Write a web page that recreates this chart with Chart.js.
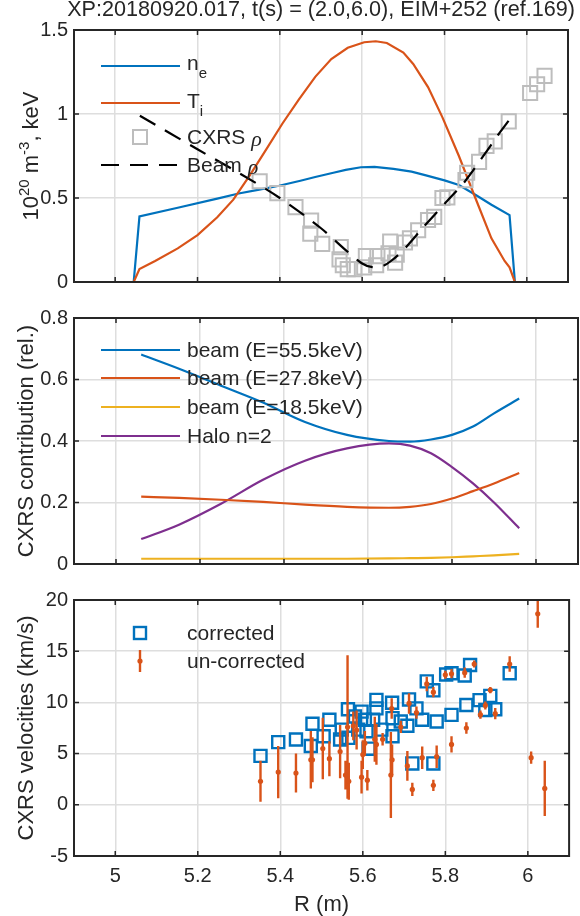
<!DOCTYPE html>
<html>
<head>
<meta charset="utf-8">
<script src="https://cdn.jsdelivr.net/npm/chart.js@4.4.1/dist/chart.umd.min.js"></script>
<style>
  html, body { margin: 0; padding: 0; background: #fff; }
  #fig { position: relative; width: 580px; height: 916px; }
  canvas { position: absolute; left: 0; }
</style>
</head>
<body>
<div id="fig">
  <canvas id="c1" width="580" height="300" style="top:0px"></canvas>
  <canvas id="c2" width="580" height="282" style="top:300px"></canvas>
  <canvas id="c3" width="580" height="334" style="top:582px"></canvas>
</div>
<script>
const TITLE = 'XP:20180920.017, t(s) = (2.0,6.0), EIM+252 (ref.169)';
const xTicks = [5, 5.2, 5.4, 5.6, 5.8, 6];
const xTickLabels = ['5', '5.2', '5.4', '5.6', '5.8', '6'];

// panel 1: profiles
const neR = [4.9, 5.045, 5.059, 5.152, 5.248, 5.3, 5.35, 5.398, 5.45, 5.486, 5.53, 5.56, 5.597, 5.63, 5.676, 5.72, 5.755, 5.8, 5.835, 5.875, 5.914, 5.958, 5.971, 6.065];
const neVal = [0, 0, 0.39, 0.442, 0.496, 0.527, 0.55, 0.573, 0.603, 0.625, 0.65, 0.667, 0.683, 0.685, 0.673, 0.657, 0.635, 0.605, 0.577, 0.519, 0.46, 0.398, 0, 0];
const tiR = [4.9, 5.045, 5.059, 5.097, 5.152, 5.2, 5.248, 5.287, 5.327, 5.367, 5.406, 5.446, 5.486, 5.525, 5.565, 5.605, 5.633, 5.66, 5.7, 5.724, 5.76, 5.795, 5.835, 5.875, 5.914, 5.946, 5.958, 5.971, 6.065];
const tiVal = [0, 0, 0.077, 0.125, 0.2, 0.279, 0.385, 0.49, 0.635, 0.789, 0.942, 1.086, 1.221, 1.327, 1.394, 1.427, 1.433, 1.423, 1.366, 1.298, 1.16, 0.98, 0.75, 0.5, 0.26, 0.125, 0.087, 0, 0];
const beamR = [5.06, 5.2, 5.3, 5.4, 5.5, 5.56, 5.6, 5.625, 5.65, 5.67, 5.7, 5.75, 5.8, 5.85, 5.9, 5.93, 5.962];
const beamRho = [0.99, 0.79, 0.65, 0.5, 0.32, 0.19, 0.11, 0.088, 0.095, 0.125, 0.19, 0.33, 0.465, 0.6, 0.77, 0.875, 0.98];
const cxrsR = [5.351, 5.394, 5.438, 5.476, 5.474, 5.503, 5.548, 5.545, 5.553, 5.565, 5.581, 5.605, 5.609, 5.637, 5.634, 5.668, 5.664, 5.68, 5.684, 5.704, 5.716, 5.736, 5.76, 5.775, 5.795, 5.807, 5.851, 5.855, 5.884, 5.902, 5.922, 5.956, 6.008, 6.025, 6.043];
const cxrsRho = [0.6, 0.529, 0.446, 0.365, 0.288, 0.227, 0.208, 0.135, 0.1, 0.077, 0.077, 0.087, 0.154, 0.154, 0.1, 0.24, 0.17, 0.115, 0.163, 0.235, 0.26, 0.308, 0.369, 0.388, 0.5, 0.504, 0.606, 0.65, 0.715, 0.81, 0.837, 0.956, 1.125, 1.177, 1.227];

// panel 2: CXRS contributions
const contribR = [5.06, 5.15, 5.25, 5.35, 5.45, 5.55, 5.65, 5.7, 5.75, 5.8, 5.85, 5.9, 5.96];
const beam55 = [0.681, 0.635, 0.58, 0.525, 0.462, 0.42, 0.4, 0.398, 0.405, 0.42, 0.447, 0.49, 0.538];
const beam28 = [0.219, 0.215, 0.209, 0.202, 0.193, 0.186, 0.183, 0.186, 0.195, 0.213, 0.237, 0.262, 0.296];
const beam18 = [0.017, 0.017, 0.017, 0.017, 0.017, 0.017, 0.018, 0.019, 0.02, 0.022, 0.025, 0.028, 0.033];
const halo = [0.081, 0.128, 0.196, 0.274, 0.336, 0.376, 0.392, 0.385, 0.36, 0.315, 0.262, 0.2, 0.116];

// panel 3: velocities
const corrR = [5.352, 5.395, 5.438, 5.478, 5.474, 5.505, 5.519, 5.549, 5.545, 5.564, 5.565, 5.581, 5.597, 5.589, 5.609, 5.614, 5.605, 5.633, 5.633, 5.625, 5.645, 5.671, 5.672, 5.672, 5.692, 5.708, 5.712, 5.73, 5.72, 5.744, 5.755, 5.771, 5.779, 5.771, 5.802, 5.815, 5.815, 5.847, 5.86, 5.851, 5.883, 5.897, 5.909, 5.921, 5.956];
const corrV = [4.78, 6.12, 6.38, 7.92, 5.74, 6.7, 8.3, 7.34, 6.38, 9.33, 6.54, 8.62, 9.1, 7.34, 7.18, 5.48, 8.3, 10.25, 9.42, 8.3, 7.34, 9.96, 8.46, 6.7, 8.14, 7.72, 10.29, 9.42, 4.04, 8.3, 12.05, 11.18, 8.14, 4.04, 12.72, 12.85, 8.78, 12.63, 13.65, 9.74, 10.22, 9.26, 10.64, 9.33, 12.85];
const uncR = [5.352, 5.395, 5.438, 5.474, 5.478, 5.503, 5.519, 5.545, 5.558, 5.563, 5.566, 5.577, 5.585, 5.597, 5.6, 5.605, 5.611, 5.629, 5.633, 5.648, 5.668, 5.671, 5.67, 5.692, 5.708, 5.712, 5.72, 5.73, 5.744, 5.755, 5.771, 5.771, 5.779, 5.8, 5.815, 5.815, 5.847, 5.851, 5.87, 5.885, 5.897, 5.909, 5.921, 5.956, 6.008, 6.024, 6.041];
const uncV = [2.3, 3.2, 3.1, 4.4, 4.4, 5.5, 4.5, 5.2, 2.9, 7.6, 2.3, 7.7, 7.3, 2.7, 4.9, 6.0, 2.4, 6.4, 5.9, 6.4, 2.9, 4.4, 9.4, 7.6, 3.8, 9.9, 1.5, 9.0, 4.6, 11.8, 11.0, 1.9, 4.7, 12.7, 12.8, 5.9, 12.9, 7.5, 13.75, 8.8, 9.7, 11.2, 8.9, 13.75, 4.6, 18.65, 1.6];
const uncErr = [2.0, 2.55, 1.9, 2.8, 2.2, 3.0, 1.7, 2.6, 1.4, 7.0, 1.8, 1.4, 1.9, 1.6, 1.4, 1.2, 1.0, 2.2, 2.0, 0.6, 4.2, 1.5, 1.0, 0.6, 1.45, 1.0, 0.65, 0.6, 1.1, 0.7, 0.5, 0.55, 1.1, 0.4, 0.45, 0.8, 0.5, 0.55, 0.35, 0.4, 0.4, 0.3, 0.55, 0.75, 0.6, 1.35, 2.7];

const FONT = '"Liberation Sans", Arial, Helvetica, sans-serif';
const SERIF = '"Liberation Serif", "Times New Roman", serif';
const INK = '#262626';
const GRID = '#dedede';
const BLUE = '#0072BD', ORANGE = '#D95319', YELLOW = '#EDB120', PURPLE = '#7E2F8E', GRAY = '#bdbdbd';
const DASH = [18, 11];

const pts = (xs, ys) => xs.map((x, i) => ({ x, y: ys[i] }));

function axes(yMin, yMax, yTicks, yTickLabels, showX) {
  return {
    x: {
      type: 'linear', min: 4.9, max: 6.1,
      afterBuildTicks: s => { s.ticks = xTicks.map(v => ({ value: v })); },
      afterFit: s => { s.height = showX ? 60 : 0; },
      grid: { color: GRID, lineWidth: 1.5, drawTicks: false },
      border: { display: false },
      ticks: {
        display: showX, padding: 8, color: INK, maxRotation: 0, autoSkip: false,
        font: { family: FONT, size: 20 },
        callback: (v, i) => xTickLabels[i],
      },
    },
    y: {
      type: 'linear', min: yMin, max: yMax,
      afterBuildTicks: s => { s.ticks = yTicks.map(v => ({ value: v })); },
      afterFit: s => { s.width = 74; },
      grid: { color: GRID, lineWidth: 1.5, drawTicks: false },
      border: { display: false },
      ticks: {
        padding: 6, color: INK, autoSkip: false,
        font: { family: FONT, size: 20 },
        callback: (v, i) => yTickLabels[i],
      },
    },
  };
}

// box round the axes with inward ticks on all four sides
const frame = {
  id: 'frame',
  afterDraw(chart) {
    const { ctx, chartArea: a, scales: { x, y } } = chart;
    ctx.save();
    ctx.strokeStyle = INK;
    ctx.lineWidth = 1.5;
    ctx.beginPath();
    xTicks.forEach(v => {
      const px = x.getPixelForValue(v);
      ctx.moveTo(px, a.bottom); ctx.lineTo(px, a.bottom - 5);
      ctx.moveTo(px, a.top); ctx.lineTo(px, a.top + 5);
    });
    y.ticks.forEach(t => {
      const py = y.getPixelForValue(t.value);
      ctx.moveTo(a.left, py); ctx.lineTo(a.left + 5, py);
      ctx.moveTo(a.right, py); ctx.lineTo(a.right - 5, py);
    });
    ctx.stroke();
    ctx.lineWidth = 2;
    ctx.strokeRect(a.left, a.top, a.right - a.left, a.bottom - a.top);
    ctx.restore();
  },
};

function drawParts(ctx, x, y, parts) {
  parts.forEach(p => {
    ctx.font = p.font || `${p.size || 21}px ${FONT}`;
    ctx.fillText(p.t, x, y + (p.dy || 0));
    x += ctx.measureText(p.t).width;
  });
}

function partsWidth(ctx, parts) {
  return parts.reduce((w, p) => {
    ctx.font = p.font || `${p.size || 21}px ${FONT}`;
    return w + ctx.measureText(p.t).width;
  }, 0);
}

function yLabel(ctx, x, cy, parts) {
  ctx.save();
  ctx.translate(x, cy);
  ctx.rotate(-Math.PI / 2);
  ctx.textAlign = 'left';
  ctx.textBaseline = 'alphabetic';
  drawParts(ctx, -partsWidth(ctx, parts) / 2, 0, parts);
  ctx.restore();
}

function legendLine(ctx, a, y, color, dash) {
  ctx.save();
  ctx.strokeStyle = color;
  ctx.lineWidth = 2.2;
  ctx.setLineDash(dash || []);
  ctx.beginPath();
  ctx.moveTo(a.left + 27, y);
  ctx.lineTo(a.left + 106, y);
  ctx.stroke();
  ctx.restore();
}

function legendSquare(ctx, a, y, color, side, lw) {
  ctx.save();
  ctx.strokeStyle = color;
  ctx.lineWidth = lw;
  ctx.strokeRect(a.left + 66 - side / 2, y - side / 2, side, side);
  ctx.restore();
}

function legendText(ctx, a, y, parts) {
  ctx.save();
  ctx.fillStyle = INK;
  ctx.textAlign = 'left';
  ctx.textBaseline = 'alphabetic';
  drawParts(ctx, a.left + 113, y, parts);
  ctx.restore();
}

const rho = { t: 'ρ', font: `italic 22px ${SERIF}`, dy: 2 };

const base = {
  responsive: false,
  animation: false,
  events: [],
  layout: { padding: { left: 0, right: 2, top: 0, bottom: 0 } },
  plugins: { legend: { display: false }, tooltip: { enabled: false } },
};

// ---------- panel 1 ----------
new Chart(document.getElementById('c1'), {
  type: 'line',
  data: {
    datasets: [
      { data: pts(beamR, beamRho), borderColor: '#000', borderWidth: 2.2, borderDash: DASH, pointRadius: 0, tension: 0.3, order: 0 },
      { data: pts(cxrsR, cxrsRho), showLine: false, pointStyle: 'rect', pointRadius: 10, pointBorderWidth: 2, pointBorderColor: GRAY, pointBackgroundColor: 'rgba(0,0,0,0)', order: 1 },
      { data: pts(tiR, tiVal), borderColor: ORANGE, borderWidth: 2.2, pointRadius: 0, order: 2 },
      { data: pts(neR, neVal), borderColor: BLUE, borderWidth: 2.2, pointRadius: 0, order: 3 },
    ],
  },
  options: {
    ...base,
    layout: { padding: { left: 0, right: 2, top: 30, bottom: 10 } },
    scales: axes(0, 1.5, [0, 0.5, 1, 1.5], ['0', '0.5', '1', '1.5'], false),
  },
  plugins: [frame, {
    id: 'text1',
    afterDraw(chart) {
      const { ctx, chartArea: a } = chart;
      ctx.save();
      ctx.fillStyle = INK;
      ctx.font = `21.6px ${FONT}`;
      ctx.textAlign = 'center';
      ctx.textBaseline = 'alphabetic';
      ctx.fillText(TITLE, (a.left + a.right) / 2, 16);
      yLabel(ctx, 38, (a.top + a.bottom) / 2, [
        { t: '10', size: 22 }, { t: '20', size: 15, dy: -9 }, { t: ' m', size: 22 },
        { t: '-3', size: 15, dy: -9 }, { t: ', keV', size: 22 },
      ]);
      ctx.restore();

      const rows = [36, 73, 107, 135].map(d => a.top + d);
      legendLine(ctx, a, rows[0], BLUE);
      legendText(ctx, a, rows[0] + 4, [{ t: 'n' }, { t: 'e', size: 15, dy: 8 }]);
      legendLine(ctx, a, rows[1], ORANGE);
      legendText(ctx, a, rows[1] + 5, [{ t: 'T' }, { t: 'i', size: 15, dy: 8 }]);
      legendSquare(ctx, a, rows[2], GRAY, 14, 2);
      legendText(ctx, a, rows[2] + 7, [{ t: 'CXRS ' }, rho]);
      legendLine(ctx, a, rows[3], '#000', DASH);
      legendText(ctx, a, rows[3] + 7, [{ t: 'Beam ' }, rho]);
    },
  }],
});

// ---------- panel 2 ----------
const smooth = { borderWidth: 2.2, pointRadius: 0, cubicInterpolationMode: 'monotone' };
new Chart(document.getElementById('c2'), {
  type: 'line',
  data: {
    datasets: [
      { data: pts(contribR, beam55), borderColor: BLUE, ...smooth },
      { data: pts(contribR, beam28), borderColor: ORANGE, ...smooth },
      { data: pts(contribR, beam18), borderColor: YELLOW, ...smooth },
      { data: pts(contribR, halo), borderColor: PURPLE, ...smooth },
    ],
  },
  options: {
    ...base,
    layout: { padding: { left: 0, right: 2, top: 13, bottom: 8 } },
    scales: axes(0, 0.8, [0, 0.2, 0.4, 0.6, 0.8], ['0', '0.2', '0.4', '0.6', '0.8'], false),
  },
  plugins: [frame, {
    id: 'text2',
    afterDraw(chart) {
      const { ctx, chartArea: a } = chart;
      ctx.save();
      ctx.fillStyle = INK;
      yLabel(ctx, 33, (a.top + a.bottom) / 2, [{ t: 'CXRS contribution (rel.)', size: 22 }]);
      ctx.restore();
      const rows = [32, 60, 89, 118].map(d => a.top + d);
      const names = ['beam (E=55.5keV)', 'beam (E=27.8keV)', 'beam (E=18.5keV)', 'Halo n=2'];
      [BLUE, ORANGE, YELLOW, PURPLE].forEach((c, i) => {
        legendLine(ctx, a, rows[i], c);
        legendText(ctx, a, rows[i] + 7, [{ t: names[i] }]);
      });
    },
  }],
});

// ---------- panel 3 ----------
const errSegs = [];
uncR.forEach((r, i) => {
  errSegs.push({ x: r, y: uncV[i] - uncErr[i] }, { x: r, y: uncV[i] + uncErr[i] }, { x: r, y: null });
});

new Chart(document.getElementById('c3'), {
  type: 'line',
  data: {
    datasets: [
      { data: pts(uncR, uncV), showLine: false, pointRadius: 2.6, pointBorderWidth: 0, pointBackgroundColor: ORANGE, order: 0 },
      { data: errSegs, borderColor: ORANGE, borderWidth: 2.4, pointRadius: 0, spanGaps: false, order: 1 },
      { data: pts(corrR, corrV), showLine: false, pointStyle: 'rect', pointRadius: 8.5, pointBorderWidth: 2.4, pointBorderColor: BLUE, pointBackgroundColor: 'rgba(0,0,0,0)', order: 2 },
    ],
  },
  options: {
    ...base,
    layout: { padding: { left: 0, right: 2, top: 12, bottom: 0 } },
    scales: axes(-5, 20, [-5, 0, 5, 10, 15, 20], ['-5', '0', '5', '10', '15', '20'], true),
  },
  plugins: [frame, {
    id: 'text3',
    afterDraw(chart) {
      const { ctx, chartArea: a } = chart;
      ctx.save();
      ctx.fillStyle = INK;
      yLabel(ctx, 33, (a.top + a.bottom) / 2, [{ t: 'CXRS velocities (km/s)', size: 22 }]);
      ctx.font = `22px ${FONT}`;
      ctx.textAlign = 'center';
      ctx.textBaseline = 'alphabetic';
      ctx.fillText('R (m)', (a.left + a.right) / 2, 329);
      ctx.restore();

      const rows = [33, 61].map(d => a.top + d);
      legendSquare(ctx, a, rows[0], BLUE, 12, 2.4);
      legendText(ctx, a, rows[0] + 7, [{ t: 'corrected' }]);
      ctx.save();
      ctx.strokeStyle = ORANGE;
      ctx.fillStyle = ORANGE;
      ctx.lineWidth = 2.4;
      ctx.beginPath();
      ctx.moveTo(a.left + 66, rows[1] - 11);
      ctx.lineTo(a.left + 66, rows[1] + 11);
      ctx.stroke();
      ctx.beginPath();
      ctx.arc(a.left + 66, rows[1], 2.6, 0, Math.PI * 2);
      ctx.fill();
      ctx.restore();
      legendText(ctx, a, rows[1] + 7, [{ t: 'un-corrected' }]);
    },
  }],
});
</script>
</body>
</html>
